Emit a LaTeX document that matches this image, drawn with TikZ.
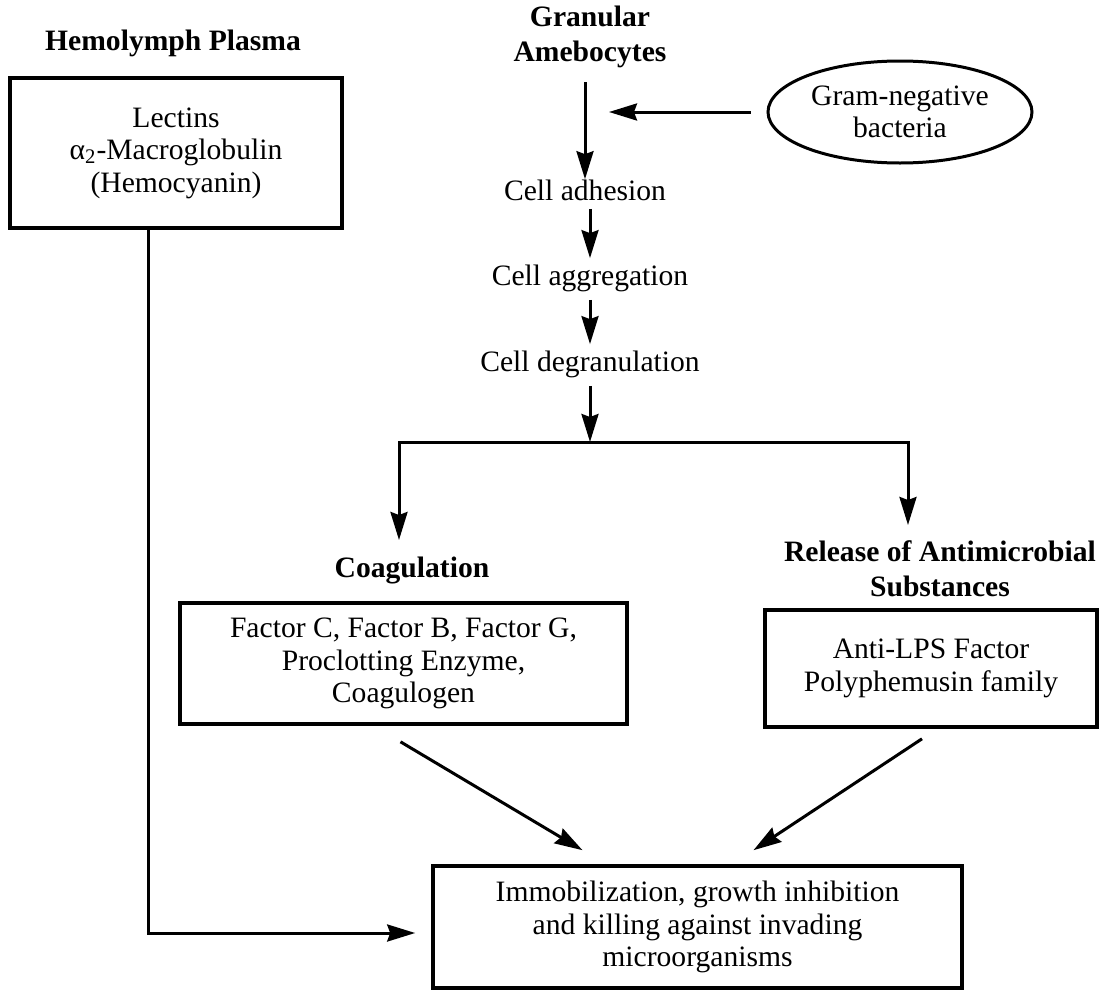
\documentclass[tikz,border=0pt]{standalone}
\usepackage{fontspec}
\setmainfont{Liberation Serif}
\usetikzlibrary{arrows.meta, positioning, shapes.geometric}

\begin{document}
\begin{tikzpicture}[
  x=0.5pt, y=-0.5pt,
  every node/.style={font=\fontsize{14.8}{16.2}\selectfont},
  head/.style={align=center, font=\fontsize{14.8}{17.5}\selectfont\bfseries, inner sep=0pt},
  stage/.style={inner sep=0pt},
  box/.style={draw, line width=1.8pt, align=center},
  germ/.style={draw, ellipse, line width=1.5pt, align=center, minimum width=132pt,
               minimum height=51pt, inner sep=0pt},
  arr/.style={-{Stealth[length=14pt, width=8.5pt, inset=1.5pt]}, line width=1.5pt}
]
\useasboundingbox (0,0) rectangle (1105,991);

% plasma side
\node[head] (plasmahead) at (173,43) {Hemolymph Plasma};
\node[box, minimum width=166pt, minimum height=75pt] (plasma) at (176,153)
  {Lectins\\α\textsubscript{2}-Macroglobulin\\(Hemocyanin)};

% amebocyte cascade
\node[head] (gran) at (590,37) {Granular\\Amebocytes};
\node[germ] (germ) at (900,112) {Gram-negative\\bacteria};
\node[stage] (adh) at (585,190) {Cell adhesion};
\node[stage] (aggr) at (590,278) {Cell aggregation};
\node[stage] (degr) at (590,364) {Cell degranulation};
\coordinate (hit) at (609,112);
\coordinate (split) at (590,442);
\coordinate (coagin) at (399,540);
\coordinate (relin) at (908,525);

% two branches
\node[head] (coaghead) at (412,570) {Coagulation};
\node[head] (relhead) at (940,569) {Release of Antimicrobial\\Substances};
\node[box, minimum width=223.5pt, minimum height=60.5pt] (coag) at (403.5,663.5)
  {Factor C, Factor B, Factor G,\\Proclotting Enzyme,\\Coagulogen};
\node[box, minimum width=166pt, minimum height=58.5pt] (rel) at (931,668.5)
  {Anti-LPS Factor\\Polyphemusin family};

% outcome
\node[box, minimum width=264.5pt, minimum height=61pt] (kill) at (697.5,927)
  {Immobilization, growth inhibition\\and killing against invading\\microorganisms};

\draw[arr, shorten <=7pt] (gran.south -| adh.north) -- (adh.north);
\draw[arr, shorten <=8pt] (germ.west) -- (hit);
\draw[arr, shorten <=4pt, shorten >=3pt] (adh.south -| aggr.north) -- (aggr.north);
\draw[arr, shorten <=4pt, shorten >=3pt] (aggr) -- (degr);
\draw[arr, shorten <=4pt] (degr) -- (split);
\draw[arr] (split) -| (coagin);
\draw[arr] (split) -| (relin);
\draw[arr] ([xshift=-1.5pt, yshift=-8pt]coag.south) -- ([xshift=-57.5pt, yshift=7pt]kill.north);
\draw[arr] ([xshift=-4.5pt, yshift=-5pt]rel.south) -- ([xshift=28pt, yshift=7pt]kill.north);
\draw[arr, shorten >=8pt] ([xshift=-14pt]plasma.south) |- ([yshift=-3pt]kill.west);
\end{tikzpicture}
\end{document}
